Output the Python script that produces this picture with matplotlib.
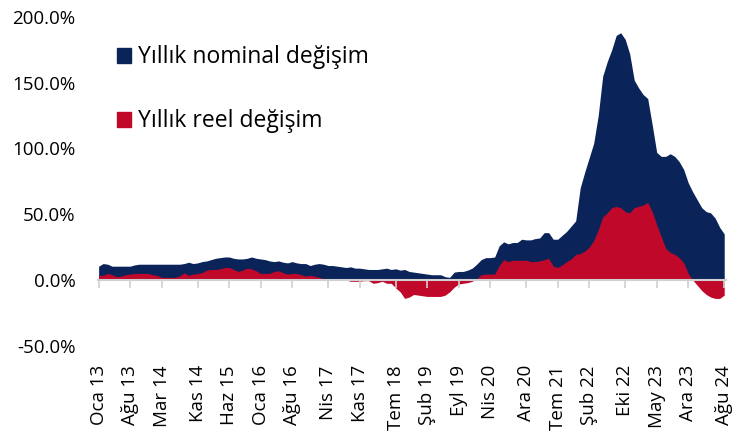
import numpy as np
import matplotlib
matplotlib.use("Agg")
import matplotlib.pyplot as plt
from matplotlib.patches import Patch

plt.rcParams['font.family'] = ['Open Sans', 'DejaVu Sans']

# monthly, Oca 13 .. Ağu 24
nominal = [
    10.5, 12.5, 12, 10.5, 10.5, 10.5, 10.5, 10.5, 11.5, 12,
    12, 12, 12, 12, 12, 12, 12, 12, 12, 12.5,
    13.5, 12.5, 13, 14, 14.5, 15.5, 16.5, 17, 17.5, 17.5,
    16.5, 16, 16, 16.5, 17.5, 16.5, 16, 15.5, 14.5, 14,
    14.5, 13.5, 13, 14, 13, 12.5, 12.5, 11, 12, 12.5,
    12, 11, 11, 10.5, 10, 9.5, 10, 9, 9, 8.5,
    8, 8, 8, 8.5, 9, 8, 8.5, 7.5, 8, 6.5,
    6, 5.5, 5, 4.5, 4, 4, 4, 2.5, 2, 6,
    6.5, 6.5, 7.5, 9, 12, 15.5, 17, 17, 17.5, 26,
    29, 27.5, 28.5, 28.5, 31, 30.5, 30.5, 31.5, 32, 36,
    36, 31, 31, 34, 37, 41, 45, 70, 82, 93,
    104, 125, 155, 166, 175, 186, 188, 183, 172, 152,
    146, 141, 138, 118, 97, 94, 94, 96, 94, 90,
    84, 74, 67, 61, 55, 52, 51, 47, 40, 35,
]
real = [
    3.5, 3.5, 5, 4, 2.5, 3, 4, 4.5, 5, 5,
    5, 5, 4, 3.5, 2, 2, 2, 2, 3, 5.5,
    3.5, 4.5, 5, 5.5, 7.5, 8, 8, 8.5, 9.5, 9.5,
    8, 6.5, 7.5, 9, 8.5, 7, 5, 5, 5, 6.5,
    7, 5.5, 4.5, 5, 5, 4, 3, 3.5, 3, 2,
    1, 0.5, 0, 0, 0, 0, -1, -1, -1, -0.5,
    -0.5, -2.5, -2, -1, -2.5, -2.5, -6, -9, -14, -13,
    -11, -11.5, -12, -12.5, -12.5, -12.5, -12.5, -11.5, -9, -5.5,
    -3, -2.5, -2, -1, 1, 4, 4.5, 4.5, 4.5, 11,
    15.5, 14, 15, 15, 15, 15, 14, 14, 14.5, 15.5,
    16.5, 10.5, 9.5, 11.5, 14, 16, 19.5, 20, 22, 25,
    30, 38, 48, 51, 55, 56, 55, 52, 51, 55,
    56, 57, 59, 52, 42, 33, 24, 21, 19.5, 17,
    13, 5, 0, -4, -8, -11, -13, -14, -14, -11.5,
]

tick_pos = [0, 7, 14, 22, 29, 36, 43, 51, 58, 66, 73, 80, 87, 95, 102, 109, 117, 124, 131, 139]
tick_labels = ['Oca 13', 'Ağu 13', 'Mar 14', 'Kas 14', 'Haz 15', 'Oca 16', 'Ağu 16', 'Nis 17',
               'Kas 17', 'Tem 18', 'Şub 19', 'Eyl 19', 'Nis 20', 'Ara 20', 'Tem 21', 'Şub 22',
               'Eki 22', 'May 23', 'Ara 23', 'Ağu 24']
y_ticks = [-50, 0, 50, 100, 150, 200]

navy = '#0A2459'
red = '#C0082A'
grey = '#D0D0D0'

x = np.arange(len(nominal))

fig = plt.figure(figsize=(7.37, 4.4), dpi=100)
ax = fig.add_axes([0.1326, 0.2142, 0.8525, 0.7472])

ax.fill_between(x, 0, nominal, color=navy, linewidth=0)
ax.fill_between(x, 0, real, color=red, linewidth=0)

ax.set_xlim(-0.2, 139.4)
ax.set_ylim(-50, 200)

# zero line with tick marks
for s in ['top', 'right', 'left']:
    ax.spines[s].set_visible(False)
ax.spines['bottom'].set_position(('data', 0))
ax.spines['bottom'].set_color(grey)
ax.spines['bottom'].set_linewidth(1.5)
ax.set_xticks(tick_pos)
ax.tick_params(axis='x', which='both', labelbottom=False, color=grey, length=6, width=1.2, direction='out')

sec = ax.secondary_xaxis('bottom')
sec.set_xticks(tick_pos)
sec.set_xticklabels(tick_labels, rotation=90, fontsize=13.5, color='#000000')
sec.tick_params(length=0, pad=14)
sec.spines['bottom'].set_visible(False)

ax.set_yticks(y_ticks)
ax.set_yticklabels([f'{v:.1f}%' for v in y_ticks], fontsize=13.5)
ax.tick_params(axis='y', length=0, pad=16)

handles = [Patch(color=navy, label='Yıllık nominal değişim'),
           Patch(color=red, label='Yıllık reel değişim')]
fig.legend(handles=handles, loc='upper left', bbox_to_anchor=(0.1588, 0.897), frameon=False,
           borderpad=0, borderaxespad=0,
           fontsize=16.5, handlelength=0.62, handleheight=0.62, handletextpad=0.3, labelspacing=1.75)

fig.savefig('out.png', dpi=100)
